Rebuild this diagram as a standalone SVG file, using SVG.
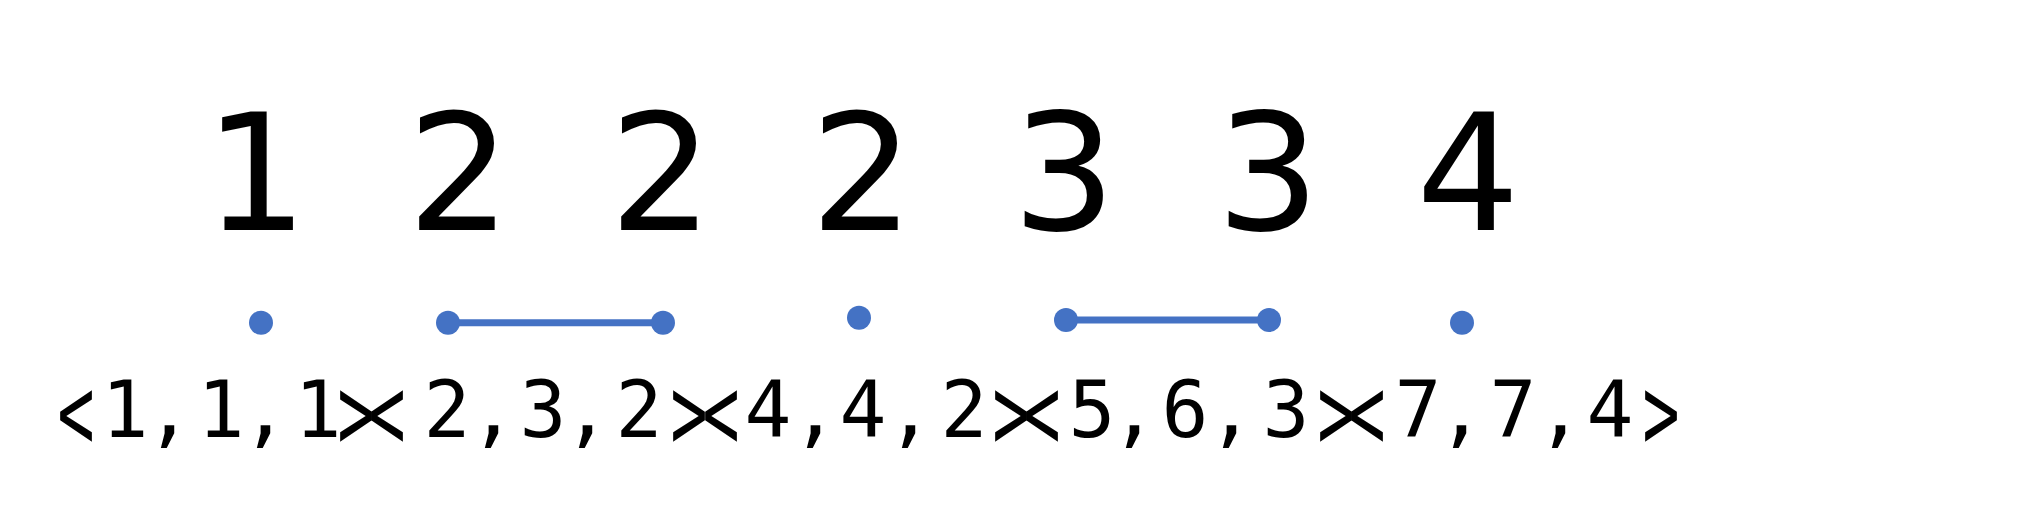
<svg xmlns="http://www.w3.org/2000/svg" width="2034" height="514" viewBox="0 0 2034 514">
<style>
.top{font-family:"DejaVu Sans",sans-serif;font-size:163px;fill:#000;text-anchor:middle}
.seq{font-family:"DejaVu Sans Mono",monospace;font-size:78px;fill:#000;text-anchor:start}
.br{font-size:106px}
.dot{fill:#4472C4}
.link{stroke:#4472C4;stroke-width:7;fill:none}
</style>
<rect width="2034" height="514" fill="#fff"/>
<g id="values">
<text class="top" x="256" y="230">1</text>
<text class="top" x="459" y="230">2</text>
<text class="top" x="661" y="230">2</text>
<text class="top" x="862" y="230">2</text>
<text class="top" x="1064" y="230">3</text>
<text class="top" x="1268" y="230">3</text>
<text class="top" x="1468" y="230">4</text>
</g>
<g id="connectors">
<line class="link" x1="448" y1="322.7" x2="663" y2="322.7"/>
<line class="link" x1="1066" y1="320" x2="1269" y2="320"/>
</g>
<g id="node1"><circle class="dot" cx="261" cy="322.7" r="12"/></g>
<g id="node2"><circle class="dot" cx="448" cy="322.7" r="12"/></g>
<g id="node3"><circle class="dot" cx="663" cy="322.7" r="12"/></g>
<g id="node4"><circle class="dot" cx="859" cy="317.7" r="12"/></g>
<g id="node5"><circle class="dot" cx="1066" cy="320" r="12"/></g>
<g id="node6"><circle class="dot" cx="1269" cy="320" r="12"/></g>
<g id="node7"><circle class="dot" cx="1462" cy="322.7" r="12"/></g>
<g id="sequence">
<text class="seq"><tspan class="br" x="57.5" y="449" textLength="37" lengthAdjust="spacingAndGlyphs">&lt;</tspan><tspan x="101.5 145.5 197.5 241.5 294.5" y="437">1,1,1</tspan><tspan class="br" x="337.5" y="449" textLength="37" lengthAdjust="spacingAndGlyphs">&gt;</tspan><tspan class="br" x="368.5" y="449" textLength="37" lengthAdjust="spacingAndGlyphs">&lt;</tspan><tspan x="423.5 469.5 519.5 563.5 615.5" y="437">2,3,2</tspan><tspan class="br" x="670.5" y="449" textLength="37" lengthAdjust="spacingAndGlyphs">&gt;</tspan><tspan class="br" x="702.5" y="449" textLength="37" lengthAdjust="spacingAndGlyphs">&lt;</tspan><tspan x="744.5 791.5 839.5 886.5 940.5" y="437">4,4,2</tspan><tspan class="br" x="992.5" y="449" textLength="37" lengthAdjust="spacingAndGlyphs">&gt;</tspan><tspan class="br" x="1023.5" y="449" textLength="37" lengthAdjust="spacingAndGlyphs">&lt;</tspan><tspan x="1068.5 1110.5 1161.5 1207.5 1262.5" y="437">5,6,3</tspan><tspan class="br" x="1317.5" y="449" textLength="37" lengthAdjust="spacingAndGlyphs">&gt;</tspan><tspan class="br" x="1348.5" y="449" textLength="37" lengthAdjust="spacingAndGlyphs">&lt;</tspan><tspan x="1394.5 1437.5 1489.5 1536.5 1586.5" y="437">7,7,4</tspan><tspan class="br" x="1642.5" y="449" textLength="37" lengthAdjust="spacingAndGlyphs">&gt;</tspan></text>
</g>
</svg>
